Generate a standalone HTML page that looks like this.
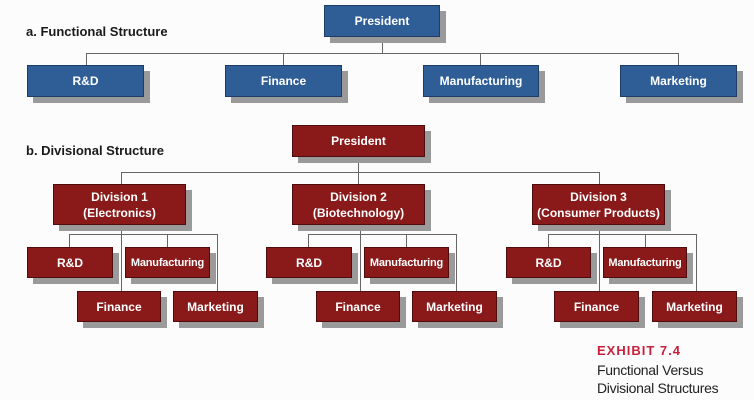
<!DOCTYPE html>
<html><head><meta charset="utf-8"><style>
body{margin:0;width:754px;height:400px;background:#fcfcfc;position:relative;overflow:hidden;font-family:"Liberation Sans",Arial,sans-serif}
.b,.r{position:absolute;box-sizing:border-box;color:#fff;font-weight:bold;font-size:12px;display:flex;align-items:center;justify-content:center;text-align:center;line-height:16px;box-shadow:6px 6px 0 #9a9a9a}
.b{background:#2f5e97;border:1px solid #1d3c66}
.r{background:#8a1a1a;border:1px solid #4e0c0c}
.s{font-size:11px;letter-spacing:-0.2px}
.h{position:absolute;height:1px;background:#666}
.v{position:absolute;width:1px;background:#666}
.t{position:absolute;font-weight:bold;font-size:13px;color:#1a1a1a}
</style></head><body>
<div class="t" style="left:26px;top:24px">a. Functional Structure</div>
<div class="t" style="left:26px;top:143px">b. Divisional Structure</div>

<div class="h" style="left:86px;width:593px;top:53px"></div>
<div class="v" style="left:382px;top:37px;height:16px"></div>
<div class="v" style="left:86px;top:53px;height:12px"></div>
<div class="v" style="left:283px;top:53px;height:12px"></div>
<div class="v" style="left:480px;top:53px;height:12px"></div>
<div class="v" style="left:678px;top:53px;height:12px"></div>
<div class="b" style="left:324px;top:5px;width:116px;height:32px">President</div>
<div class="b" style="left:27px;top:65px;width:117px;height:32px">R&amp;D</div>
<div class="b" style="left:225px;top:65px;width:117px;height:32px">Finance</div>
<div class="b" style="left:423px;top:65px;width:116px;height:32px">Manufacturing</div>
<div class="b" style="left:620px;top:65px;width:117px;height:32px">Marketing</div>

<div class="v" style="left:358px;top:156px;height:28px"></div>
<div class="h" style="left:121px;width:479px;top:172px"></div>
<div class="v" style="left:121px;top:172px;height:12px"></div>
<div class="v" style="left:599px;top:172px;height:12px"></div>
<div class="r" style="left:292px;top:125px;width:133px;height:32px">President</div>

<div class="v" style="left:121px;top:225px;height:66px"></div>
<div class="h" style="left:69px;width:149px;top:234px"></div>
<div class="v" style="left:69px;top:234px;height:13px"></div>
<div class="v" style="left:167px;top:234px;height:13px"></div>
<div class="v" style="left:217px;top:234px;height:57px"></div>
<div class="r" style="left:53px;top:184px;width:133px;height:41px">Division 1<br>(Electronics)</div>
<div class="r" style="left:27px;top:247px;width:86px;height:31px">R&amp;D</div>
<div class="r s" style="left:125px;top:247px;width:85px;height:31px">Manufacturing</div>
<div class="r" style="left:77px;top:291px;width:84px;height:31px">Finance</div>
<div class="r" style="left:173px;top:291px;width:85px;height:31px">Marketing</div>

<div class="v" style="left:360px;top:225px;height:66px"></div>
<div class="h" style="left:308px;width:149px;top:234px"></div>
<div class="v" style="left:308px;top:234px;height:13px"></div>
<div class="v" style="left:406px;top:234px;height:13px"></div>
<div class="v" style="left:456px;top:234px;height:57px"></div>
<div class="r" style="left:292px;top:184px;width:133px;height:41px">Division 2<br>(Biotechnology)</div>
<div class="r" style="left:266px;top:247px;width:86px;height:31px">R&amp;D</div>
<div class="r s" style="left:364px;top:247px;width:85px;height:31px">Manufacturing</div>
<div class="r" style="left:316px;top:291px;width:84px;height:31px">Finance</div>
<div class="r" style="left:412px;top:291px;width:85px;height:31px">Marketing</div>

<div class="v" style="left:599px;top:225px;height:66px"></div>
<div class="h" style="left:548px;width:149px;top:234px"></div>
<div class="v" style="left:548px;top:234px;height:13px"></div>
<div class="v" style="left:645px;top:234px;height:13px"></div>
<div class="v" style="left:696px;top:234px;height:57px"></div>
<div class="r" style="left:532px;top:184px;width:133px;height:41px">Division 3<br>(Consumer Products)</div>
<div class="r" style="left:506px;top:247px;width:85px;height:31px">R&amp;D</div>
<div class="r s" style="left:603px;top:247px;width:84px;height:31px">Manufacturing</div>
<div class="r" style="left:554px;top:291px;width:85px;height:31px">Finance</div>
<div class="r" style="left:652px;top:291px;width:85px;height:31px">Marketing</div>

<div style="position:absolute;left:597px;top:343px;color:#c8203c;font-weight:bold;font-size:13px;letter-spacing:1px">EXHIBIT 7.4</div>
<div style="position:absolute;left:597px;top:361px;color:#222;font-size:14px;line-height:18px;letter-spacing:-0.3px">Functional Versus<br>Divisional Structures</div>
</body></html>
